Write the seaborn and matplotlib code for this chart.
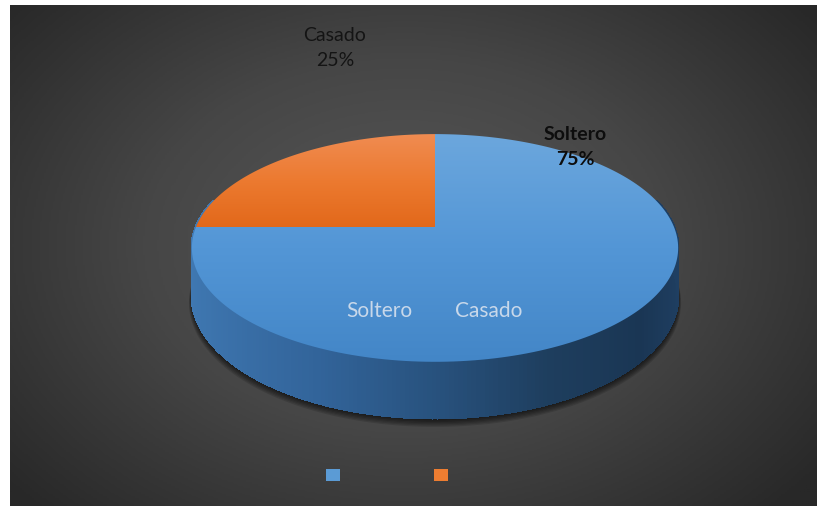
import numpy as np
import matplotlib.pyplot as plt
from matplotlib.patches import Polygon, Patch
from matplotlib.collections import PolyCollection
from matplotlib.colors import LinearSegmentedColormap
import seaborn as sns

# datos del grafico
categorias = ['Soltero', 'Casado']
valores = [75, 25]
colores = ['#5b9bd5', '#ed7d31']
# degradado de cada porcion (arriba -> abajo)
tonos = [['#6ca7dd', '#5396d6', '#4386c7'], ['#f08c52', '#ec7a30', '#e2681a']]

sns.set_theme(style='white')
plt.rcParams['font.family'] = ['Lato', 'DejaVu Sans']

W, H = 819, 510
fig = plt.figure(figsize=(W / 100, H / 100), dpi=100)
ax = fig.add_axes([0, 0, 1, 1])
ax.set_xlim(0, W)
ax.set_ylim(H, 0)
ax.axis('off')

# fondo oscuro con degradado radial
gx, gy = np.meshgrid(np.linspace(0, 1, 400), np.linspace(0, 1, 250))
dist = np.sqrt(((gx - 0.49) / 0.65) ** 2 + ((gy - 0.48) / 0.75) ** 2)
cmap_bg = LinearSegmentedColormap.from_list('bg', ['#585858', '#464646', '#282828'])
ax.imshow(np.clip(dist, 0, 1), cmap=cmap_bg, vmin=0, vmax=1,
          extent=[10, 817, 507, 6], aspect='auto', zorder=0)

# proyeccion en perspectiva del pastel 3D
cx, cy = 435, 228
RX, RY, B, T = 239, 110, 0.184, 46


def proyectar(r, th, baja=0.0):
    d = r * np.sin(th)
    s = 1 / (1 + B * d)
    return cx + RX * r * np.cos(th) * s, cy - RY * d * s + baja * T * s


fr = np.array(valores) / sum(valores)
limites = np.pi / 2 - 2 * np.pi * np.concatenate([[0], np.cumsum(fr)])

# sombra debajo del pastel
th_all = np.linspace(0, 2 * np.pi, 300)
bx, by = proyectar(1, th_all, 1)
for k in range(7):
    esc = 1 + 0.002 * k
    pts = np.column_stack([cx + (bx - cx) * esc, cy + (by - cy) * esc + 1 + 0.9 * k])
    ax.add_patch(Polygon(pts, closed=True, color='black', alpha=0.13, lw=0, zorder=1))

# lateral del pastel
cmap_lado = LinearSegmentedColormap.from_list(
    'lado', [(0, '#4079b3'), (0.3, '#32649a'), (0.5, '#28527e'),
             (0.7, '#1e3e5e'), (0.88, '#1a3654'), (1, '#1f3f62')])
th_lado = np.linspace(np.pi - 0.25, 2 * np.pi + 0.25, 240)
quads, cols = [], []
for a, b in zip(th_lado[:-1], th_lado[1:]):
    x1, y1 = proyectar(1, a)
    x2, y2 = proyectar(1, b)
    x3, y3 = proyectar(1, b, 1)
    x4, y4 = proyectar(1, a, 1)
    quads.append([(x1, y1), (x2, y2), (x3, y3), (x4, y4)])
    cols.append(cmap_lado((np.cos((a + b) / 2) + 1) / 2))
ax.add_collection(PolyCollection(quads, facecolors=cols, edgecolors=cols,
                                 lw=1.2, antialiased=False, zorder=2))

# cara superior: una porcion por categoria, con degradado vertical
grad = np.linspace(0, 1, 256).reshape(-1, 1)
for i, cat in enumerate(categorias):
    th = np.linspace(limites[i], limites[i + 1], 200)
    xs, ys = proyectar(1, th)
    pts = np.vstack([[cx, cy], np.column_stack([xs, ys])])
    poly = Polygon(pts, closed=True, facecolor='none', lw=0, zorder=3)
    ax.add_patch(poly)
    cm = LinearSegmentedColormap.from_list('c%d' % i, tonos[i])
    ext = [pts[:, 0].min() - 2, pts[:, 0].max() + 2, pts[:, 1].max() + 1, pts[:, 1].min() - 1]
    im = ax.imshow(grad, cmap=cm, extent=ext, aspect='auto', zorder=3)
    im.set_clip_path(poly)

# etiquetas de datos
ax.text(335, 48, 'Casado\n25%', ha='center', va='center', fontsize=14,
        color='#141414', linespacing=1.55, zorder=5)
ax.text(575, 147, 'Soltero\n75%', ha='center', va='center', fontsize=14,
        fontweight='bold', color='#0d0d0d', linespacing=1.55, zorder=5)

# textos de leyenda (desplazados dentro del pastel)
ax.text(379, 311, 'Soltero', ha='center', va='center', fontsize=15,
        color='#c8d8ea', zorder=5)
ax.text(489, 311, 'Casado', ha='center', va='center', fontsize=15,
        color='#c8d8ea', zorder=5)

# marcadores de leyenda
handles = [Patch(facecolor=c, edgecolor='none') for c in colores]
ax.legend(handles=handles, labels=['', ''], ncol=2, loc='center',
          bbox_to_anchor=(387 / W, 1 - 476 / H), frameon=False, fontsize=10,
          handlelength=1, handleheight=1, handletextpad=0, columnspacing=6.8,
          borderpad=0)

fig.savefig('out.png', dpi=100, facecolor='white')
